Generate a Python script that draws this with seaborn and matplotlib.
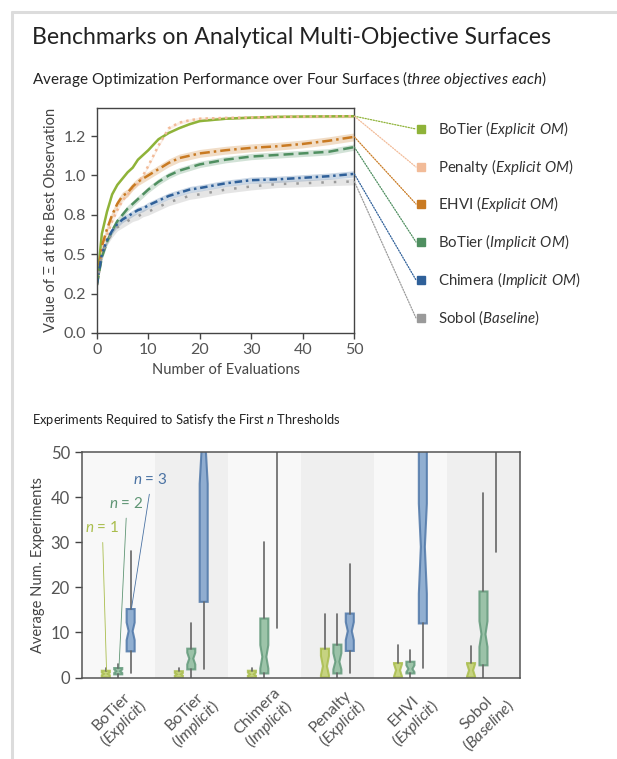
import numpy as np
import pandas as pd
import matplotlib
matplotlib.use('Agg')
import matplotlib.pyplot as plt
import seaborn as sns
from matplotlib.lines import Line2D
from matplotlib.patches import ConnectionPatch
from matplotlib.ticker import FormatStrFormatter

W, H = 617, 759

# ---- top panel: mean value of Xi at best observation ----
evals = [0, 1, 2, 3, 4, 5, 6, 7, 8, 9, 10, 12, 14, 16, 18, 20, 25, 30, 35, 40, 45, 50]
botier_explicit = [0.30, 0.63, 0.77, 0.88, 0.94, 0.98, 1.02, 1.05, 1.10, 1.13, 1.16, 1.23, 1.27,
                   1.30, 1.325, 1.345, 1.36, 1.367, 1.372, 1.374, 1.375, 1.376]
penalty_explicit = [0.30, 0.50, 0.62, 0.71, 0.78, 0.84, 0.88, 0.92, 0.95, 1.00, 1.06, 1.19, 1.30,
                    1.335, 1.35, 1.36, 1.365, 1.368, 1.372, 1.374, 1.375, 1.376]
ehvi_explicit = [0.30, 0.55, 0.66, 0.75, 0.82, 0.87, 0.89, 0.93, 0.96, 0.98, 1.00, 1.04, 1.08,
                 1.11, 1.125, 1.14, 1.16, 1.175, 1.185, 1.20, 1.22, 1.245]
botier_implicit = [0.30, 0.48, 0.58, 0.65, 0.71, 0.75, 0.79, 0.82, 0.85, 0.88, 0.91, 0.96, 1.00,
                   1.03, 1.05, 1.07, 1.10, 1.12, 1.13, 1.14, 1.15, 1.18]
chimera_implicit = [0.30, 0.50, 0.59, 0.65, 0.69, 0.72, 0.74, 0.76, 0.78, 0.79, 0.81, 0.84, 0.87,
                    0.89, 0.91, 0.92, 0.95, 0.97, 0.975, 0.985, 0.995, 1.01]
sobol_baseline = [0.30, 0.50, 0.58, 0.63, 0.67, 0.69, 0.71, 0.73, 0.74, 0.76, 0.77, 0.80, 0.83,
                  0.85, 0.87, 0.88, 0.91, 0.93, 0.945, 0.95, 0.957, 0.962]
band_halfwidth = [0.005, 0.01, 0.025, 0.02, 0.02, 0.022]

method_names = ['BoTier', 'Penalty', 'EHVI', 'BoTier', 'Chimera', 'Sobol']
method_modes = ['Explicit OM', 'Explicit OM', 'Explicit OM', 'Implicit OM', 'Implicit OM', 'Baseline']
series = [botier_explicit, penalty_explicit, ehvi_explicit, botier_implicit, chimera_implicit, sobol_baseline]
colors = ['#8fb339', '#f2bb98', '#c97a22', '#4f8f60', '#2f6099', '#9a9a9a']
dash_codes = ['', (1, 1.6), (4, 1.6, 1, 1.6), (4, 2), (3, 1.5, 1, 1.5), (1, 4)]

# ---- bottom panel: box statistics per category, n = 1, 2, 3 ----
categories = ['BoTier\n($\\mathit{Explicit}$)', 'BoTier\n($\\mathit{Implicit}$)',
              'Chimera\n($\\mathit{Implicit}$)', 'Penalty\n($\\mathit{Explicit}$)',
              'EHVI\n($\\mathit{Explicit}$)', 'Sobol\n($\\mathit{Baseline}$)']

n1_q1 = [0, 0, 0, 0, 0, 0]
n1_med = [0.8, 0.7, 0.7, 2.5, 1.6, 1.6]
n1_q3 = [1.5, 1.4, 1.5, 6.4, 3.2, 3.2]
n1_cilo = [0.5, 0.4, 0.4, 0.5, 0.2, 0.2]
n1_cihi = [1.1, 1.0, 1.1, 4.8, 3.0, 3.0]
n1_whislo = [0, 0, 0, 0, 0, 0]
n1_whishi = [2.0, 2.1, 2.1, 14.2, 7.2, 7.0]

n2_q1 = [0.7, 1.8, 0.9, 0.9, 0.9, 2.7]
n2_med = [1.4, 4.2, 4.6, 3.5, 1.9, 9.6]
n2_q3 = [2.1, 6.4, 13.1, 7.3, 3.5, 19.1]
n2_cilo = [1.0, 2.9, 2.0, 1.8, 1.2, 6.8]
n2_cihi = [1.8, 5.5, 7.2, 5.4, 2.7, 12.5]
n2_whislo = [0, 0, 0, 0, 0, 0]
n2_whishi = [3.1, 12.1, 30.1, 14.2, 6.2, 41.0]

n3_q1 = [5.8, 16.8, 55, 5.9, 12.0, 55]
n3_med = [10.3, 51, 60, 10.3, 29, 60]
n3_q3 = [15.2, 70, 65, 14.2, 60, 65]
n3_cilo = [8.3, 43, 58, 8.3, 18.6, 58]
n3_cihi = [12.2, 59, 62, 12.3, 38.6, 62]
n3_whislo = [1.0, 1.9, 10.9, 1.0, 2.0, 27.9]
n3_whishi = [28.0, 90, 90, 25.1, 90, 90]

n_labels = ['$\\mathit{n}$ = 1', '$\\mathit{n}$ = 2', '$\\mathit{n}$ = 3']
box_face = ['#bfcf6e', '#8dbb9c', '#7fa2cb']
box_edge = ['#a9bd4c', '#62997a', '#4f77a8']
label_colors = ['#a9bd4c', '#5f9574', '#4a72a3']

sns.set_theme(style='white')
plt.rcParams['font.family'] = ['Lato', 'DejaVu Sans']
plt.rcParams['mathtext.fontset'] = 'custom'
plt.rcParams['mathtext.rm'] = 'Lato'
plt.rcParams['mathtext.it'] = 'Lato:italic'
plt.rcParams['mathtext.bf'] = 'Lato:bold'


def fx(x):
    return x / W


def fy(y):
    return 1 - y / H


fig = plt.figure(figsize=(W / 100, H / 100), dpi=100)
fig.patch.set_facecolor('white')

# card border
fig.add_artist(Line2D([fx(12), fx(12)], [0, fy(12)], color='#dcdcdc', lw=2.2, transform=fig.transFigure))
fig.add_artist(Line2D([fx(12), 1], [fy(12), fy(12)], color='#dcdcdc', lw=2.2, transform=fig.transFigure))

fig.text(fx(32), fy(38), 'Benchmarks on Analytical Multi-Objective Surfaces',
         fontsize=16.6, color='#222222', va='center', ha='left')
fig.text(fx(32), fy(79), 'Average Optimization Performance over Four Surfaces ($\\mathit{three\\ objectives\\ each}$)',
         fontsize=11, color='#222222', va='center', ha='left')
fig.text(fx(32), fy(420), 'Experiments Required to Satisfy the First $\\mathit{n}$ Thresholds',
         fontsize=9.3, color='#222222', va='center', ha='left')

# ---------------- top chart ----------------
ax1 = fig.add_axes([fx(96.7), fy(333), (354.3 - 96.7) / W, (333 - 107.7) / H])
labels = [f'{m} ({mode})' for m, mode in zip(method_names, method_modes)]
frames = [pd.DataFrame({'evals': evals, 'value': vals, 'method': lab}) for lab, vals in zip(labels, series)]
df = pd.concat(frames, ignore_index=True)

for lab, vals, c, hw in zip(labels, series, colors, band_halfwidth):
    v = np.array(vals)
    ax1.fill_between(evals, v - hw, v + hw, color=c, alpha=0.25, lw=0)

sns.lineplot(data=df, x='evals', y='value', hue='method', style='method',
             palette=dict(zip(labels, colors)), dashes=dict(zip(labels, dash_codes)),
             linewidth=1.8, errorbar=None, legend=False, ax=ax1)

ax1.set_xlim(0, 50)
ax1.set_ylim(0, 1.43)
ax1.set_yticks([0, 0.25, 0.5, 0.75, 1.0, 1.25])
ax1.yaxis.set_major_formatter(FormatStrFormatter('%.1f'))
ax1.set_xticks([0, 10, 20, 30, 40, 50])
ax1.set_xlabel('Number of Evaluations', fontsize=10.5, color='#444444')
ax1.set_ylabel('Value of Ξ at the Best Observation', fontsize=10.5, color='#444444')
ax1.tick_params(axis='both', direction='out', length=4, width=1, colors='#444444',
                labelsize=11.5, labelcolor='#555555', left=True, bottom=True)
for s in ax1.spines.values():
    s.set_color('#444444')
    s.set_linewidth(1.0)

# legend with leader lines
legend_y = [129, 167, 204, 242, 280, 318]
for lab_name, mode, c, vals, ly in zip(method_names, method_modes, colors, series, legend_y):
    con = ConnectionPatch(xyA=(50, vals[-1]), coordsA=ax1.transData,
                          xyB=(fx(416), fy(ly)), coordsB=fig.transFigure,
                          color=c, lw=0.9, linestyle=(0, (1, 1.2)))
    fig.add_artist(con)
    fig.add_artist(Line2D([fx(421)], [fy(ly)], marker='s', ms=6, color=c, lw=0,
                          transform=fig.transFigure))
    mode_tex = mode.replace(' ', '\\ ')
    fig.text(fx(438), fy(ly), f'{lab_name} ($\\mathit{{{mode_tex}}}$)', fontsize=10.8,
             color='#333333', va='center', ha='left')

# ---------------- bottom chart ----------------
ax2 = fig.add_axes([fx(81.7), fy(677.5), (520 - 81.7) / W, (677.5 - 452.3) / H])
for i in range(len(categories)):
    ax2.axvspan(i - 0.5, i + 0.5, color='#f8f8f8' if i % 2 == 0 else '#efefef', lw=0, zorder=0)

groups = [
    (n1_q1, n1_med, n1_q3, n1_cilo, n1_cihi, n1_whislo, n1_whishi),
    (n2_q1, n2_med, n2_q3, n2_cilo, n2_cihi, n2_whislo, n2_whishi),
    (n3_q1, n3_med, n3_q3, n3_cilo, n3_cihi, n3_whislo, n3_whishi),
]
offsets = [-0.17, 0.0, 0.17]
for k, (q1, med, q3, cilo, cihi, wlo, whi) in enumerate(groups):
    stats = [dict(q1=q1[i], med=med[i], q3=q3[i], cilo=cilo[i], cihi=cihi[i],
                  whislo=wlo[i], whishi=whi[i], fliers=[]) for i in range(len(categories))]
    ax2.bxp(stats, positions=np.arange(len(categories)) + offsets[k], widths=0.11,
            shownotches=True, patch_artist=True, showfliers=False, showcaps=False,
            boxprops=dict(facecolor=box_face[k], edgecolor=box_edge[k], linewidth=1.5, alpha=0.85),
            medianprops=dict(linewidth=0),
            whiskerprops=dict(color='#666666', linewidth=1.2), manage_ticks=False)

label_pos = [(-0.215, 33.3), (0.114, 38.7), (0.442, 44.0)]
for k in range(3):
    ax2.annotate(n_labels[k], xy=(offsets[k] + 0.01, groups[k][2][0]), xytext=label_pos[k],
                 textcoords='data', ha='center', va='center', fontsize=11, color=label_colors[k],
                 arrowprops=dict(arrowstyle='-', color=label_colors[k], lw=0.6,
                                 relpos=(0.5, 0), shrinkA=3, shrinkB=0))

ax2.set_xlim(-0.5, len(categories) - 0.5)
ax2.set_ylim(0, 50)
ax2.set_xticks(np.arange(len(categories)))
ax2.set_xticklabels(categories, rotation=45, ha='center', fontsize=11.5, color='#555555',
                    linespacing=1.0)
ax2.set_yticks([0, 10, 20, 30, 40, 50])
ax2.set_ylabel('Average Num. Experiments', fontsize=10.5, color='#444444')
ax2.tick_params(axis='y', direction='out', length=5, width=1, colors='#444444',
                labelcolor='#555555', labelsize=12, left=True)
ax2.tick_params(axis='x', length=0, pad=6)
for s in ax2.spines.values():
    s.set_color('#555555')
    s.set_linewidth(1.1)

fig.savefig('out.png', dpi=100)
